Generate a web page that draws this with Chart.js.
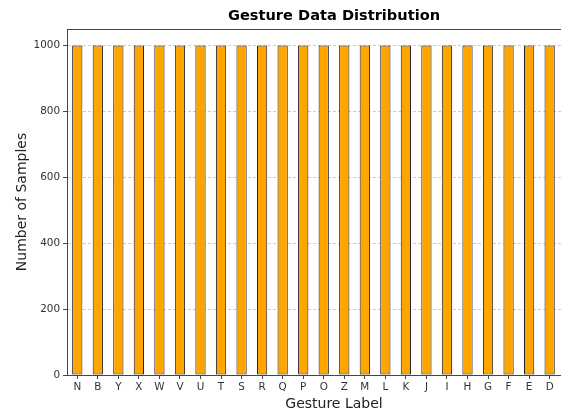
<!DOCTYPE html>
<html>
<head>
<meta charset="utf-8">
<script src="https://cdn.jsdelivr.net/npm/chart.js@4.4.1/dist/chart.umd.min.js"></script>
<style>
html, body { margin: 0; padding: 0; background: #fff; overflow: hidden; }
</style>
</head>
<body>
<canvas id="myChart" width="620" height="413"></canvas>
<script>
// gesture labels as ordered in the plot (last two are past the right edge of the picture)
const gestureLabels = ["N","B","Y","X","W","V","U","T","S","R","Q","P","O","Z","M","L","K","J","I","H","G","F","E","D","C","A"];
const sampleCounts = [1000,1000,1000,1000,1000,1000,1000,1000,1000,1000,1000,1000,1000,
                      1000,1000,1000,1000,1000,1000,1000,1000,1000,1000,1000,1000,1000];
const yTicks = [0, 200, 400, 600, 800, 1000];

Chart.defaults.font.family = "'DejaVu Sans', sans-serif";
Chart.defaults.color = "#333";

// top/right spines
const framePlugin = {
    id: "frame",
    afterDatasetsDraw(chart) {
        const {ctx, chartArea} = chart;
        const top = Math.round(chartArea.top) + 0.5;
        const right = Math.round(chartArea.right) - 0.5;
        ctx.save();
        ctx.strokeStyle = "#444";
        ctx.lineWidth = 1;
        ctx.beginPath();
        ctx.moveTo(chartArea.left, top);
        ctx.lineTo(right, top);
        ctx.lineTo(right, chartArea.bottom);
        ctx.stroke();
        ctx.restore();
    }
};

const canvas = document.getElementById("myChart");
let myChart = new Chart(canvas, {
    type: "bar",
    data: {
        labels: gestureLabels,
        datasets: [{
            label: "Number of Samples",
            data: sampleCounts,
            backgroundColor: "#FFA500",
            borderColor: "#222",
            borderWidth: 1,
            borderSkipped: false,
            categoryPercentage: 1.0,
            barPercentage: 0.5
        }]
    },
    options: {
        responsive: false,
        animation: false,
        layout: { padding: { left: 0, right: 19, top: 0, bottom: 0 } },
        plugins: {
            legend: { display: false },
            tooltip: { enabled: false },
            title: {
                display: true,
                text: "Gesture Data Distribution",
                fullSize: false,
                color: "#000",
                font: { size: 14.6, weight: "bold" },
                padding: { top: 7, bottom: 4.5 }
            }
        },
        scales: {
            x: {
                grid: {
                    offset: false,
                    drawOnChartArea: false,
                    tickLength: 4,
                    tickColor: "#444"
                },
                border: { color: "#444", width: 1 },
                ticks: {
                    autoSkip: false,
                    maxRotation: 0,
                    padding: 2,
                    font: { size: 10.4 }
                },
                title: {
                    display: true,
                    text: "Gesture Label",
                    color: "#222",
                    font: { size: 14 },
                    padding: { top: 0, bottom: 0.5 }
                },
                afterFit: (scale) => { scale.height = 38; }
            },
            y: {
                min: 0,
                max: 1050,
                afterBuildTicks: (scale) => { scale.ticks = yTicks.map(v => ({ value: v })); },
                grid: {
                    color: "#cccccc",
                    tickLength: 4,
                    tickColor: "#444",
                    tickBorderDash: []
                },
                border: { color: "#444", width: 1, dash: [3, 2] },
                ticks: {
                    padding: 3,
                    font: { size: 10.4 },
                    callback: (value) => String(value)
                },
                title: {
                    display: true,
                    text: "Number of Samples",
                    color: "#222",
                    font: { size: 14 },
                    padding: { top: 13.5, bottom: 0 }
                },
                afterFit: (scale) => { scale.width = 67; }
            }
        }
    },
    plugins: [framePlugin]
});
</script>
</body>
</html>
